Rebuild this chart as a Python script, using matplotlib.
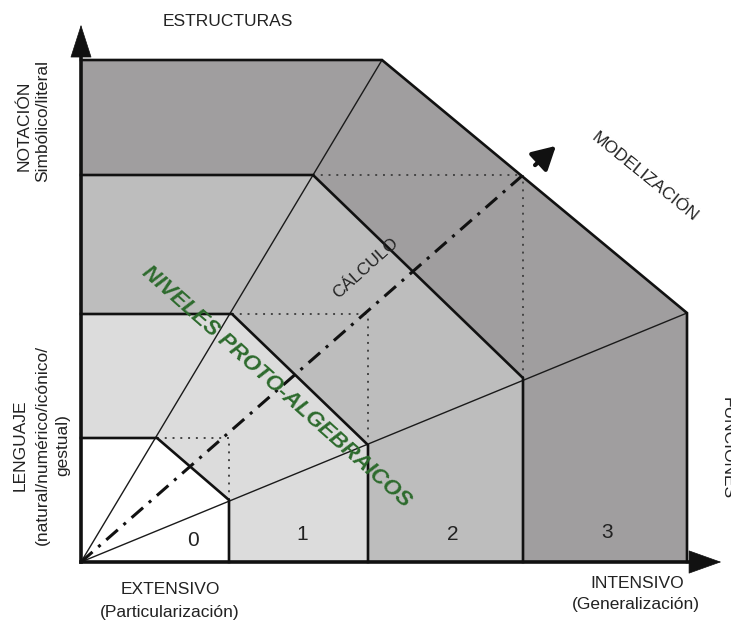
import matplotlib
matplotlib.use("Agg")
import matplotlib.pyplot as plt
from matplotlib.patches import Polygon, FancyArrowPatch

plt.rcParams['font.family'] = ['Liberation Sans', 'DejaVu Sans']

# ---- diagram data (units: origin at the axes corner) ----
levels = ["0", "1", "2", "3"]
level_colors = ["#ffffff", "#dcdcdc", "#bdbdbd", "#a09e9f"]
vert_x = [148, 287, 442, 606]        # x of vertical boundary of each level
vert_top = [62, 117, 184, 249]       # height where vertical boundary meets lower ray
horiz_y = [124, 248, 387, 502]       # y of horizontal boundary of each level
horiz_end = [76, 151, 232, 301]      # x where horizontal boundary meets upper ray
number_pos_x = [112, 221, 372, 526]
number_pos_y = [22, 27, 28, 30]
axis_x_end = 643
axis_y_end = 540
model_end = (442, 387)

fig = plt.figure(figsize=(7.31, 6.22), dpi=100)
ax = fig.add_axes([0, 0, 1, 1])
ax.set_xlim(-81, 650)
ax.set_ylim(-60, 562)
ax.axis('off')

# filled level polygons (outermost first)
for i in reversed(range(len(levels))):
    pts = [(0, 0), (0, horiz_y[i]), (horiz_end[i], horiz_y[i]),
           (vert_x[i], vert_top[i]), (vert_x[i], 0)]
    ax.add_patch(Polygon(pts, closed=True, facecolor=level_colors[i],
                         edgecolor='none', zorder=1))

# rays from origin
ax.plot([0, horiz_end[-1]], [0, horiz_y[-1]], color='#1a1a1a', lw=1.0, zorder=2)
ax.plot([0, vert_x[-1]], [0, vert_top[-1]], color='#1a1a1a', lw=1.0, zorder=2)

# dotted guide lines
for i in range(3):
    ax.plot([horiz_end[i], vert_x[i]], [horiz_y[i], horiz_y[i]],
            color='#444', lw=1.4, linestyle=(0, (1, 3)), zorder=2)
    ax.plot([vert_x[i], vert_x[i]], [vert_top[i], horiz_y[i]],
            color='#444', lw=1.4, linestyle=(0, (1, 3)), zorder=2)

# level boundaries
for i in range(len(levels)):
    ax.plot([0, horiz_end[i], vert_x[i], vert_x[i]],
            [horiz_y[i], horiz_y[i], vert_top[i], 0],
            color='#111', lw=1.9, solid_joinstyle='miter', zorder=3)

# dash-dot modelization line + arrow
ax.plot([0, model_end[0]], [0, model_end[1]], color='#111', lw=2.2,
        linestyle=(0, (5, 2.5, 1, 2.5)), zorder=4)
ax.add_patch(FancyArrowPatch((452, 395), (477, 418),
                             arrowstyle='-|>,head_length=1.0,head_width=0.55',
                             mutation_scale=14, color='#111', lw=3, zorder=5))

# axes with arrows
ax.plot([0, axis_x_end - 15], [0, 0], color='#111', lw=2.6, zorder=6)
ax.plot([0, 0], [0, axis_y_end - 15], color='#111', lw=2.6, zorder=6)
ax.add_patch(FancyArrowPatch((axis_x_end - 25, 0), (axis_x_end, 0),
                             arrowstyle='-|>,head_length=1.4,head_width=0.5',
                             mutation_scale=16, color='#111', lw=0.5, zorder=6))
ax.add_patch(FancyArrowPatch((0, axis_y_end - 25), (0, axis_y_end),
                             arrowstyle='-|>,head_length=1.4,head_width=0.45',
                             mutation_scale=16, color='#111', lw=0.5, zorder=6))

# level numbers
for lab, x, y in zip(levels, number_pos_x, number_pos_y):
    ax.text(x, y, lab, fontsize=15, color='#222', ha='center', va='center', zorder=7)

tc = '#222222'
fs = 12.5
ax.text(147, 541, "ESTRUCTURAS", fontsize=fs, color=tc, ha='center', va='center')
ax.text(-57, 436, "NOTACIÓN", fontsize=fs, color=tc, ha='center', va='center', rotation=90)
ax.text(-38, 441, "Simbólico/literal", fontsize=fs, color=tc, ha='center', va='center', rotation=90)
ax.text(-61, 117, "LENGUAJE", fontsize=fs, color=tc, ha='center', va='center', rotation=90)
ax.text(-39, 117, "(natural/numérico/icónico/", fontsize=fs, color=tc, ha='center', va='center', rotation=90)
ax.text(-18, 117, "gestual)", fontsize=fs, color=tc, ha='center', va='center', rotation=90)
ax.text(89, -28, "EXTENSIVO", fontsize=fs, color=tc, ha='center', va='center')
ax.text(89, -50, "(Particularización)", fontsize=fs, color=tc, ha='center', va='center')
ax.text(556, -22, "INTENSIVO", fontsize=fs, color=tc, ha='center', va='center')
ax.text(555, -43, "(Generalización)", fontsize=fs, color=tc, ha='center', va='center')
ax.text(646, 114, "FUNCIONES", fontsize=fs, color=tc, ha='center', va='center', rotation=-90)
ax.text(564, 385, "MODELIZACIÓN", fontsize=fs, color=tc, ha='center', va='center',
        rotation=-39, rotation_mode='anchor')
ax.text(285, 294, "CÁLCULO", fontsize=fs, color=tc, ha='center', va='center',
        rotation=42, rotation_mode='anchor', zorder=7)
ax.text(195, 175, "NIVELES PROTO-ALGEBRAICOS", fontsize=16, color='#2d6b2d',
        fontweight='bold', fontstyle='italic', ha='center', va='center',
        rotation=-41.6, rotation_mode='anchor', zorder=8)

fig.savefig("out.png", dpi=100)
